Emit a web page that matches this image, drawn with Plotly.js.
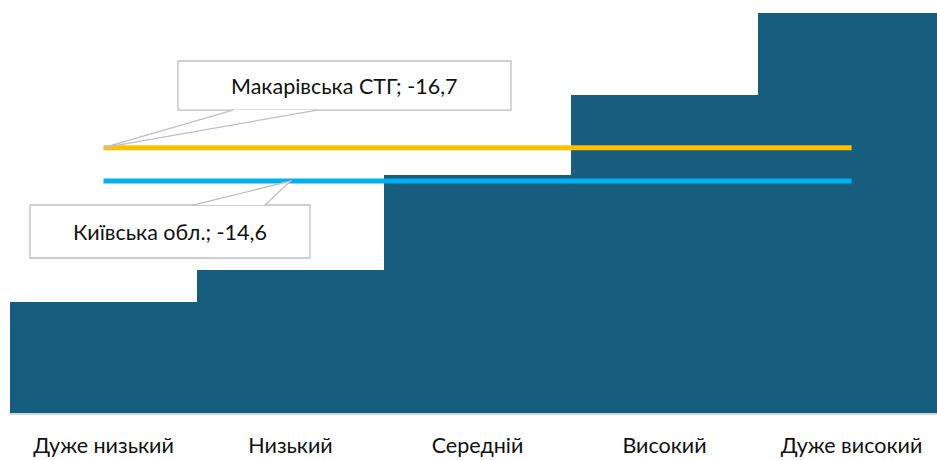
<!DOCTYPE html>
<html><head><meta charset="utf-8">
<script src="https://cdn.plot.ly/plotly-3.0.1.min.js"></script>
<style>html,body{margin:0;padding:0;background:#fff}#c{width:937px;height:460px}</style>
</head><body><div id="c"></div>
<script>
const categories = ["Дуже низький", "Низький", "Середній", "Високий", "Дуже високий"];
const levelValues = [-7, -9, -15, -20, -25.2];
const seriesNames = ["Макарівська СТГ", "Київська обл."];
const seriesValues = [-16.7, -14.6];
const seriesColors = ["#FFC000", "#00B0F0"];
const calloutTipIndex = [0, 1];

const fmt = v => String(v).replace('.', ',');
const xIdx = categories.map((c, i) => i);
const FONT = 'Lato, Open Sans, sans-serif';

const traces = [{
  type: 'bar', x: xIdx, y: levelValues,
  marker: {color: '#175E7E', line: {width: 0}},
  hoverinfo: 'skip'
}];
seriesValues.forEach((v, k) => {
  traces.push({
    type: 'scatter', mode: 'lines', x: [0, categories.length - 1], y: [v, v],
    line: {color: seriesColors[k], width: 5}, hoverinfo: 'skip'
  });
});

// callout boxes (decoration), in axis units
const boxes = [
  {x0: 0.398, x1: 2.179, y0: -22.16, y1: -19.07, base: [0.6925, 1.1417], baseY: -19.07},
  {x0: -0.393, x1: 1.104, y0: -13.094, y1: -9.758, base: [0.4786, 0.8636], baseY: -13.094}
];
const shapes = [];
const annotations = [];
boxes.forEach((b, k) => {
  const tx = calloutTipIndex[k], ty = seriesValues[k];
  shapes.push({type: 'rect', xref: 'x', yref: 'y', x0: b.x0, x1: b.x1, y0: b.y0, y1: b.y1,
    fillcolor: '#FFFFFF', line: {color: '#BFBFBF', width: 1.3}, layer: 'above'});
  shapes.push({type: 'path', xref: 'x', yref: 'y',
    path: `M${b.base[0]},${b.baseY} L${tx},${ty} L${b.base[1]},${b.baseY} Z`,
    fillcolor: '#FFFFFF', line: {width: 0}, layer: 'above'});
  shapes.push({type: 'path', xref: 'x', yref: 'y',
    path: `M${b.base[0]},${b.baseY} L${tx},${ty} L${b.base[1]},${b.baseY}`,
    line: {color: '#BFBFBF', width: 1.3}, layer: 'above'});
  annotations.push({xref: 'x', yref: 'y', x: (b.x0 + b.x1) / 2, y: (b.y0 + b.y1) / 2,
    text: seriesNames[k] + '; ' + fmt(seriesValues[k]), showarrow: false,
    font: {family: FONT, size: 21.5, color: '#111'}});
});

const layout = {
  width: 937, height: 460,
  margin: {l: 10, r: 0, t: 0, b: 47, pad: 0},
  paper_bgcolor: '#fff', plot_bgcolor: '#fff',
  showlegend: false, bargap: 0,
  xaxis: {range: [-0.5, 4.457], tickmode: 'array', tickvals: xIdx, ticktext: categories,
    showgrid: false, zeroline: false, showline: true, linecolor: '#D0D7DC', linewidth: 1.5,
    ticks: '', ticklabelstandoff: 13,
    tickfont: {family: FONT, size: 21.5, color: '#111'}, fixedrange: true},
  yaxis: {range: [0, -26.0], showgrid: false, zeroline: false, showline: false,
    showticklabels: false, ticks: '', fixedrange: true},
  shapes: shapes, annotations: annotations
};
Plotly.newPlot('c', traces, layout, {displayModeBar: false, staticPlot: true});
</script></body></html>
